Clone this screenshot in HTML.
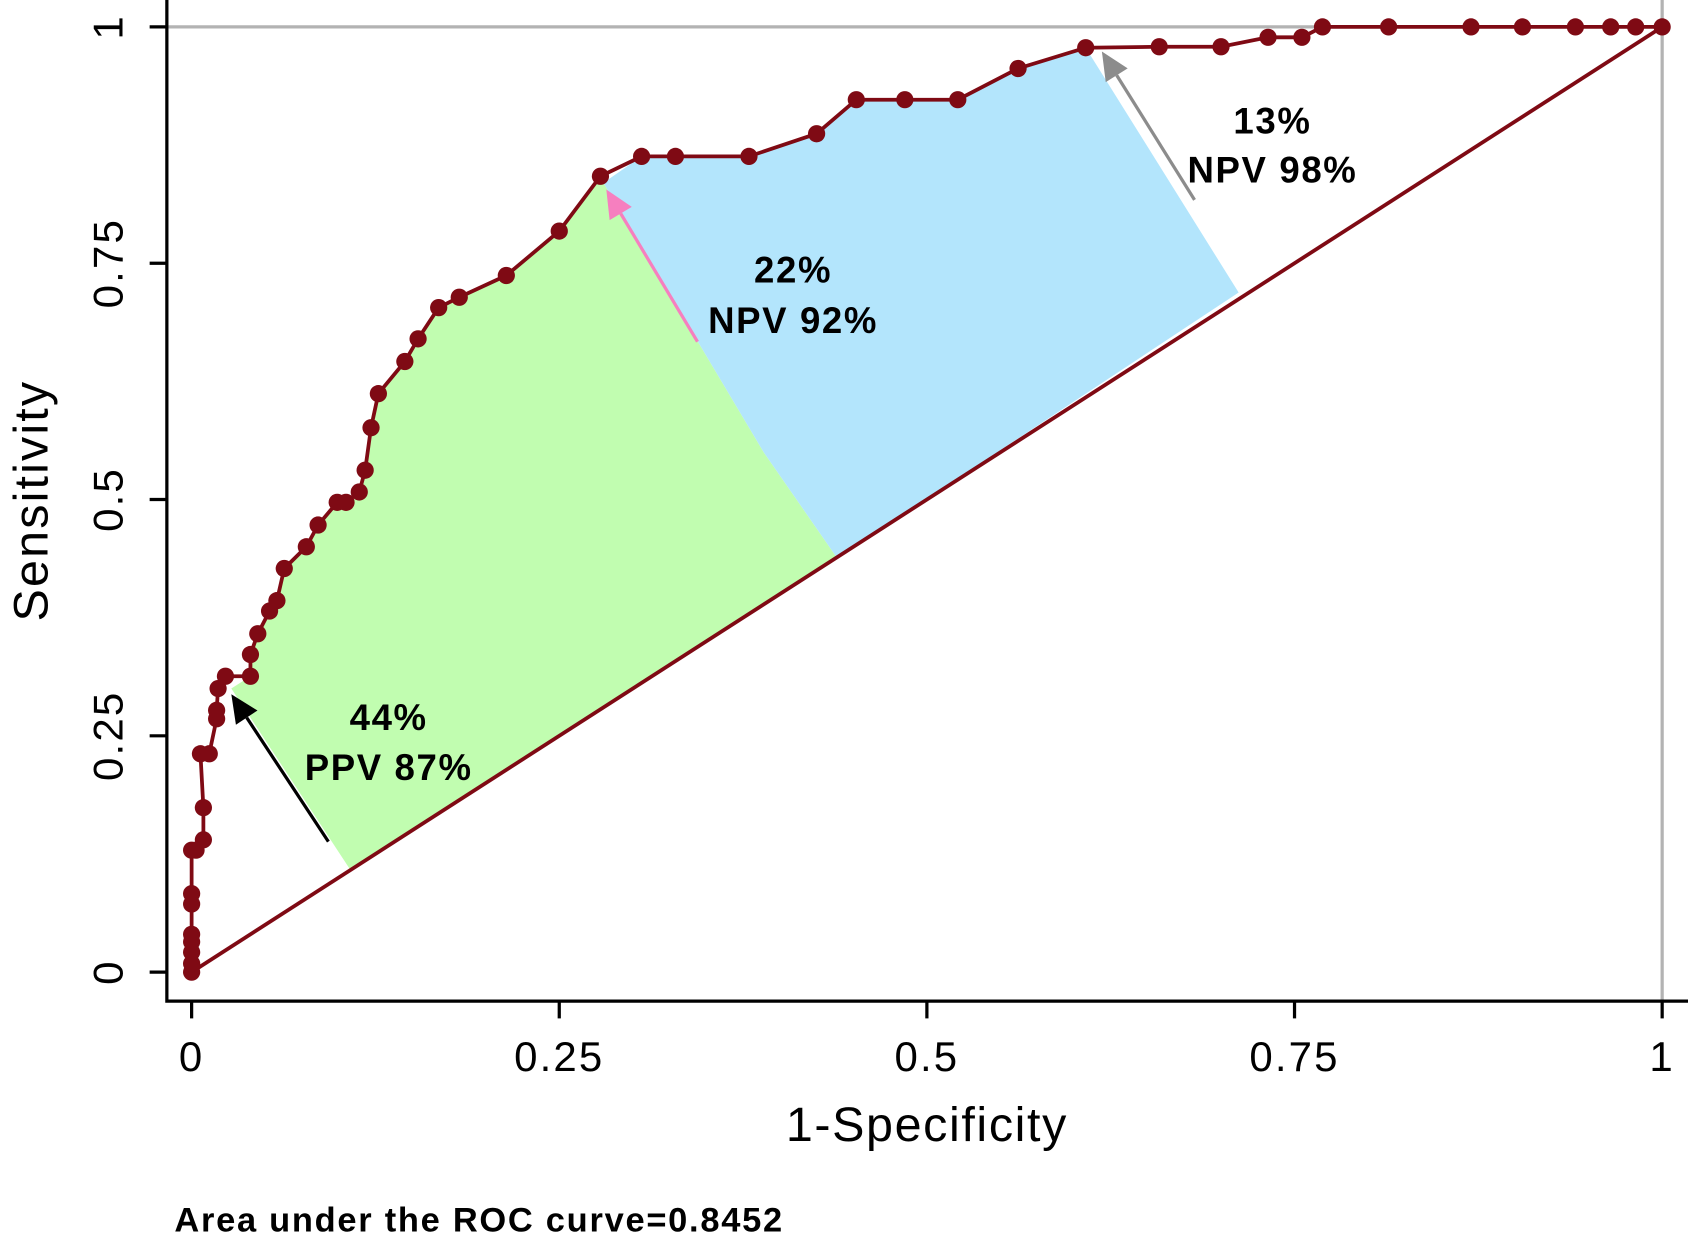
<!DOCTYPE html>
<html><head><meta charset="utf-8"><style>
html,body{margin:0;padding:0;background:#fff}
svg{display:block}
text{font-family:"Liberation Sans",Arial,sans-serif}
</style></head><body>
<svg width="1688" height="1242" viewBox="0 0 1568 1153.7" xmlns="http://www.w3.org/2000/svg">
<g id="fills"></g>
<line x1="155" y1="25" x2="1544" y2="25" stroke="#b3b3b3" stroke-width="3"/>
<line x1="1544" y1="0" x2="1544" y2="930" stroke="#b3b3b3" stroke-width="3"/>
<g id="axes"></g>
<g id="annot"></g>
<g id="curve"></g>
<text x="861" y="1060" font-size="45" letter-spacing="1.5" text-anchor="middle">1-Specificity</text>
<text transform="translate(44,465) rotate(-90)" font-size="45" letter-spacing="2" text-anchor="middle">Sensitivity</text>
<text x="162" y="1144" font-size="32" letter-spacing="1.6" font-weight="bold">Area under the ROC curve=0.8452</text>
</svg>
<script>
const fpr=[0,0,0,0,0,0,0,0,0.003,0.008,0.008,0.006,0.012,0.017,0.017,0.018,0.023,0.040,0.040,0.045,0.053,0.058,0.063,0.078,0.086,0.099,0.105,0.114,0.118,0.122,0.127,0.145,0.154,0.168,0.182,0.214,0.250,0.278,0.306,0.329,0.379,0.425,0.452,0.485,0.521,0.562,0.608,0.658,0.700,0.732,0.755,0.769,0.814,0.870,0.905,0.941,0.965,0.982,1];
const tpr=[0,0.009,0.021,0.032,0.040,0.072,0.083,0.129,0.129,0.140,0.174,0.231,0.231,0.268,0.277,0.300,0.313,0.313,0.336,0.358,0.382,0.393,0.427,0.450,0.473,0.497,0.497,0.508,0.531,0.576,0.612,0.646,0.670,0.703,0.714,0.737,0.784,0.842,0.863,0.863,0.863,0.887,0.923,0.923,0.923,0.956,0.978,0.979,0.979,0.989,0.989,1,1,1,1,1,1,1,1];
const xTicks=[0,0.25,0.5,0.75,1];
const xTickLabels=["0","0.25","0.5","0.75","1"];
const yTicks=[0,0.25,0.5,0.75,1];
const yTickLabels=["0","0.25","0.5","0.75","1"];
const greenEdge=[[0.108,0.108],[0.027,0.300]];
const greenRange=[0.03,0.278];
const greenClose=[[0.28,0.835],[0.389,0.550],[0.439,0.438]];
const blueRange=[0.28,0.61];
const blueClose=[[0.712,0.719],[0.439,0.438],[0.389,0.550]];
const arrows=[[[0.093,0.138],[0.027,0.294],"#000"],[[0.344,0.667],[0.282,0.828],"#f67fbf"],[[0.682,0.817],[0.619,0.974],"#8c8c8c"]];
const labels=[[0.134,0.270,"44%"],[0.134,0.217,"PPV 87%"],[0.409,0.743,"22%"],[0.409,0.690,"NPV 92%"],[0.735,0.901,"13%"],[0.735,0.849,"NPV 98%"]];
const NS="http://www.w3.org/2000/svg";
const X=v=>178+v*1366, Y=v=>903-v*878;
function mk(tag,attrs,parent){const e=document.createElementNS(NS,tag);for(const k in attrs)e.setAttribute(k,attrs[k]);parent.appendChild(e);return e;}
const fills=document.getElementById('fills');
function curvePts(a,b){const r=[];for(let i=0;i<fpr.length;i++){if(fpr[i]>=a&&fpr[i]<=b)r.push([fpr[i],tpr[i]]);}return r;}
let g=[...greenEdge,...curvePts(greenRange[0],greenRange[1]),...greenClose];
let p=mk('polygon',{points:g.map(q=>X(q[0])+','+Y(q[1])).join(' '),fill:'#c1fdb0'},fills);


let b=[[0.28,0.835],...curvePts(blueRange[0],blueRange[1]),...blueClose];
p=mk('polygon',{points:b.map(q=>X(q[0])+','+Y(q[1])).join(' '),fill:'#b3e5fc'},fills);


const axes=document.getElementById('axes');
let l=mk('path',{d:'M155,0 V930 H1568',fill:'none',stroke:'#000','stroke-width':3},axes);


xTicks.forEach((t,i)=>{
 let tk=mk('line',{x1:X(t),x2:X(t),y1:930,y2:946,stroke:'#000','stroke-width':3},axes);
 
 
 let tx=mk('text',{x:X(t),y:995,'font-size':39,'letter-spacing':2,'text-anchor':'middle'},axes);tx.textContent=xTickLabels[i];
 
 
});
yTicks.forEach((t,i)=>{
 let tk=mk('line',{x1:139,x2:155,y1:Y(t),y2:Y(t),stroke:'#000','stroke-width':3},axes);
 
 
 let tx=mk('text',{transform:`translate(114,${Y(t)}) rotate(-90)`,'font-size':39,'letter-spacing':2,'text-anchor':'middle'},axes);tx.textContent=yTickLabels[i];
 
 
});
const annot=document.getElementById('annot');
arrows.forEach(a=>{
 const x1=X(a[0][0]),y1=Y(a[0][1]),x2=X(a[1][0]),y2=Y(a[1][1]);
 const ang=Math.atan2(y2-y1,x2-x1),L=26,W=12;
 const bx=x2-L*Math.cos(ang),by=y2-L*Math.sin(ang);
 let ln=mk('line',{x1:x1,y1:y1,x2:bx,y2:by,stroke:a[2],'stroke-width':3},annot);
 
 
 let hd=mk('polygon',{points:`${x2},${y2} ${bx+W*Math.sin(ang)},${by-W*Math.cos(ang)} ${bx-W*Math.sin(ang)},${by+W*Math.cos(ang)}`,fill:a[2]},annot);
 
 
});
labels.forEach(t=>{
 let tx=mk('text',{x:X(t[0]),y:Y(t[1])+12,'font-size':34,'letter-spacing':1.5,'font-weight':'bold','text-anchor':'middle'},annot);tx.textContent=t[2];
 
 
});
const curve=document.getElementById('curve');
let dg=mk('line',{x1:X(0),y1:Y(0),x2:X(1),y2:Y(1),stroke:'#7f0a14','stroke-width':3.5},curve);


let pl=mk('polyline',{points:fpr.map((f,i)=>X(f)+','+Y(tpr[i])).join(' '),fill:'none',stroke:'#7f0a14','stroke-width':3.5},curve);


fpr.forEach((f,i)=>{
 let c=mk('circle',{cx:X(f),cy:Y(tpr[i]),r:8,fill:'#7f0a14'},curve);
 
 
});
</script>
</body></html>
